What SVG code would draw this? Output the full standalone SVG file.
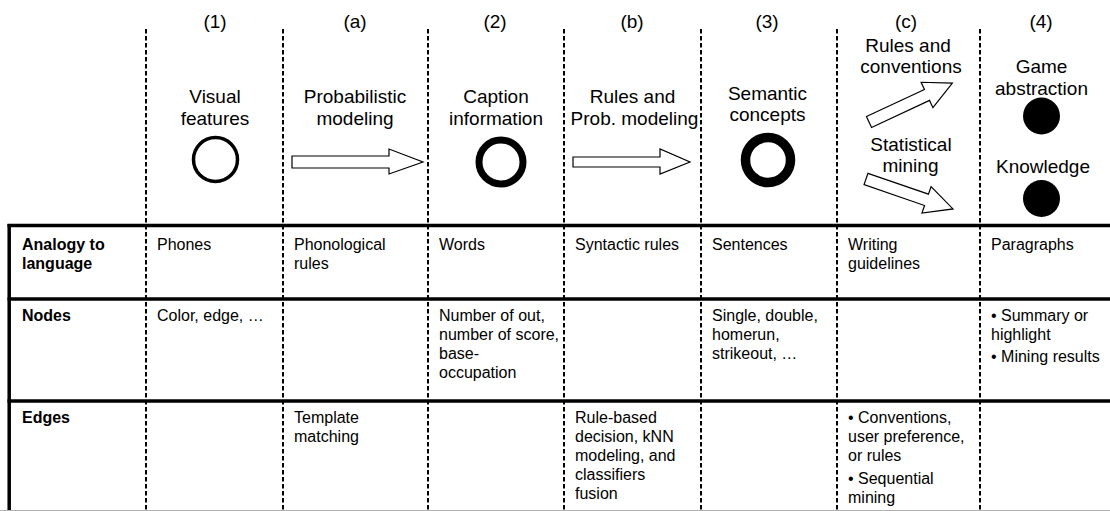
<svg xmlns="http://www.w3.org/2000/svg" width="1110" height="511" viewBox="0 0 1110 511">
  <style>
    .hd { font-family: "Liberation Sans", Arial, sans-serif; font-size: 19px; fill: #000; text-anchor: middle; }
    .tx { font-family: "Liberation Sans", Arial, sans-serif; font-size: 16px; fill: #000; }
    .bold { font-weight: bold; }
    .sep { stroke: #000; stroke-width: 2; stroke-dasharray: 4.5 2.5; fill: none; }
    .rule { stroke: #000; stroke-width: 3.5; fill: none; }
    .arrow { fill: #fff; stroke: #000; stroke-width: 1.2; stroke-linejoin: miter; }
  </style>
  <defs>
    <polygon id="diag-arrow" points="0,-6 64,-6 64,-14 92,0 64,14 64,6 0,6"/>
  </defs>
  <rect width="1110" height="511" fill="#fff"/>

  <!-- stage separators -->
  <g id="separators">
    <line class="sep" x1="146" y1="29" x2="146" y2="511"/>
    <line class="sep" x1="283" y1="29" x2="283" y2="511"/>
    <line class="sep" x1="428" y1="29" x2="428" y2="511"/>
    <line class="sep" x1="564" y1="29" x2="564" y2="511"/>
    <line class="sep" x1="701" y1="29" x2="701" y2="511"/>
    <line class="sep" x1="837" y1="29" x2="837" y2="511"/>
    <line class="sep" x1="980" y1="29" x2="980" y2="511"/>
  </g>

  <!-- column indices -->
  <g id="indices" class="hd">
    <text x="215" y="28">(1)</text>
    <text x="355" y="28">(a)</text>
    <text x="495" y="28">(2)</text>
    <text x="632" y="28">(b)</text>
    <text x="767" y="28">(3)</text>
    <text x="906" y="28">(c)</text>
    <text x="1041" y="28">(4)</text>
  </g>

  <!-- level nodes -->
  <g id="node-visual">
    <text class="hd" x="215" y="103">Visual</text>
    <text class="hd" x="215" y="125">features</text>
    <circle cx="215.5" cy="159.5" r="22" fill="none" stroke="#000" stroke-width="3.5"/>
  </g>
  <g id="node-caption">
    <text class="hd" x="496" y="103">Caption</text>
    <text class="hd" x="496" y="125">information</text>
    <circle cx="501" cy="162" r="22" fill="none" stroke="#000" stroke-width="7"/>
  </g>
  <g id="node-semantic">
    <text class="hd" x="767.5" y="100">Semantic</text>
    <text class="hd" x="767.5" y="121">concepts</text>
    <circle cx="768" cy="160" r="22.5" fill="none" stroke="#000" stroke-width="9.5"/>
  </g>
  <g id="node-game">
    <text class="hd" x="1041.5" y="73">Game</text>
    <text class="hd" x="1041.5" y="95">abstraction</text>
    <circle cx="1041.5" cy="116" r="18.5" fill="#000"/>
  </g>
  <g id="node-knowledge">
    <text class="hd" x="1043" y="173">Knowledge</text>
    <circle cx="1041.5" cy="198.5" r="18.5" fill="#000"/>
  </g>

  <!-- transitions between levels -->
  <g id="connectors">
    <g id="edge-a">
      <text class="hd" x="355" y="103">Probabilistic</text>
      <text class="hd" x="355" y="125">modeling</text>
      <polygon class="arrow" points="292,156 389,156 389,149 423,162 389,174 389,168 292,168"/>
    </g>
    <g id="edge-b">
      <text class="hd" x="632.5" y="103">Rules and</text>
      <text class="hd" x="634.5" y="125">Prob. modeling</text>
      <polygon class="arrow" points="573,157 660,157 660,149 690,162 660,174 660,167 573,167"/>
    </g>
    <g id="edge-c1">
      <text class="hd" x="908" y="52">Rules and</text>
      <text class="hd" x="911" y="73">conventions</text>
      <use href="#diag-arrow" class="arrow" transform="translate(869,122) rotate(-25)"/>
    </g>
    <g id="edge-c2">
      <text class="hd" x="911" y="151">Statistical</text>
      <text class="hd" x="910.5" y="172">mining</text>
      <use href="#diag-arrow" class="arrow" transform="translate(866,179) rotate(19)"/>
    </g>
  </g>

  <!-- table -->
  <g id="table">
    <line class="rule" x1="7.5" y1="225.5" x2="1110" y2="225.5"/>
    <line class="rule" x1="7.5" y1="299" x2="1110" y2="299"/>
    <line class="rule" x1="7.5" y1="401" x2="1110" y2="401"/>
    <line class="rule" x1="9.2" y1="224" x2="9.2" y2="511"/>
    <line x1="0" y1="510.5" x2="1110" y2="510.5" stroke="#b0b0b0" stroke-width="1"/>

    <g id="row-analogy" class="tx">
      <text class="bold" x="22" y="250">Analogy to</text>
      <text class="bold" x="22" y="269">language</text>
      <text x="157" y="250">Phones</text>
      <text x="294" y="250">Phonological</text>
      <text x="294" y="269">rules</text>
      <text x="439" y="250">Words</text>
      <text x="575" y="250">Syntactic rules</text>
      <text x="712" y="250">Sentences</text>
      <text x="848" y="250">Writing</text>
      <text x="848" y="269">guidelines</text>
      <text x="991" y="250">Paragraphs</text>
    </g>

    <g id="row-nodes" class="tx">
      <text class="bold" x="22" y="321">Nodes</text>
      <text x="157" y="321">Color, edge, …</text>
      <text x="439" y="321">Number of out,</text>
      <text x="439" y="340">number of score,</text>
      <text x="439" y="359">base-</text>
      <text x="439" y="378">occupation</text>
      <text x="712" y="321">Single, double,</text>
      <text x="712" y="340">homerun,</text>
      <text x="712" y="359">strikeout, …</text>
      <text x="991" y="321">• Summary or</text>
      <text x="991" y="340">highlight</text>
      <text x="991" y="362">• Mining results</text>
    </g>

    <g id="row-edges" class="tx">
      <text class="bold" x="22" y="423">Edges</text>
      <text x="294" y="423">Template</text>
      <text x="294" y="442">matching</text>
      <text x="575" y="423">Rule-based</text>
      <text x="575" y="442">decision, kNN</text>
      <text x="575" y="461">modeling, and</text>
      <text x="575" y="480">classifiers</text>
      <text x="575" y="499">fusion</text>
      <text x="848" y="423">• Conventions,</text>
      <text x="848" y="442">user preference,</text>
      <text x="848" y="461">or rules</text>
      <text x="848" y="484">• Sequential</text>
      <text x="848" y="503">mining</text>
    </g>
  </g>
</svg>
